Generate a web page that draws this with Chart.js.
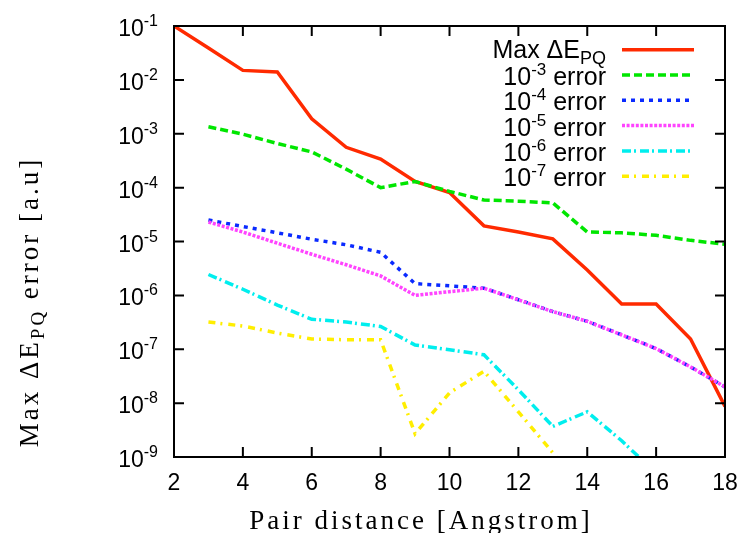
<!DOCTYPE html>
<html>
<head>
<meta charset="utf-8">
<script src="https://cdn.jsdelivr.net/npm/chart.js@4.4.1/dist/chart.umd.min.js"></script>
<style>
  html, body { margin: 0; padding: 0; background: #fff; }
  #wrap { width: 743px; height: 533px; }
</style>
</head>
<body>
<div id="wrap"><canvas id="chart"></canvas></div>
<script>
// pair distance in Angstrom
const distances = [2, 3, 4, 5, 6, 7, 8, 9, 10, 11, 12, 13, 14, 15, 16, 17, 18];

// max energy error for each run (a.u.), null = not plotted
const maxDeltaE = [1e-1, 3.9e-2, 1.5e-2, 1.4e-2, 1.9e-3, 5.6e-4, 3.4e-4, 1.3e-4, 8.1e-5, 1.95e-5, 1.5e-5, 1.12e-5, 2.95e-6, 6.9e-7, 6.9e-7, 1.55e-7, 8.7e-9];
const err3 = [null, 1.35e-3, 9.8e-4, 6.6e-4, 4.6e-4, 2.2e-4, 1.0e-4, 1.3e-4, 8.5e-5, 5.9e-5, 5.6e-5, 5.2e-5, 1.5e-5, 1.45e-5, 1.3e-5, 1.05e-5, 8.9e-6];
const err4 = [null, 2.5e-5, 1.9e-5, 1.45e-5, 1.1e-5, 8.7e-6, 6.3e-6, 1.65e-6, 1.5e-6, 1.36e-6, 8.3e-7, 5.0e-7, 3.3e-7, 1.85e-7, 1.03e-7, 4.7e-8, 2.0e-8];
const err5 = [null, 2.3e-5, 1.5e-5, 9.3e-6, 5.8e-6, 3.7e-6, 2.3e-6, 1.0e-6, 1.17e-6, 1.36e-6, 8.3e-7, 5.0e-7, 3.3e-7, 1.85e-7, 1.03e-7, 4.7e-8, 2.0e-8];
const err6 = [null, 2.44e-6, 1.3e-6, 6.6e-7, 3.6e-7, 3.2e-7, 2.65e-7, 1.2e-7, 9.8e-8, 7.9e-8, 1.77e-8, 3.7e-9, 6.9e-9, 2.0e-9, 5.0e-10, null, null];
const err7 = [null, 3.2e-7, 2.7e-7, 2.0e-7, 1.55e-7, 1.5e-7, 1.5e-7, 2.7e-9, 1.55e-8, 3.9e-8, 6.9e-9, 1.2e-9, 2.0e-10, null, null, null, null];

const xTicks = [2, 4, 6, 8, 10, 12, 14, 16, 18];
const yExponents = [-1, -2, -3, -4, -5, -6, -7, -8, -9];

const legendRows = [
  { main: "Max \u0394E", sub: "PQ" },
  { main: "10", sup: "-3", rest: " error" },
  { main: "10", sup: "-4", rest: " error" },
  { main: "10", sup: "-5", rest: " error" },
  { main: "10", sup: "-6", rest: " error" },
  { main: "10", sup: "-7", rest: " error" },
];

const series = [maxDeltaE, err3, err4, err5, err6, err7];
const colors = ["#ff2a00", "#00e600", "#0a2aff", "#ff44ff", "#00eeee", "#ffee00"];
const dashes = [[], [8, 4], [4, 5], [3, 1.6], [9, 3, 2, 4], [7, 5, 2, 6]];

const SANS = "'Liberation Sans', Arial, sans-serif";
const SERIF = "'Liberation Serif', 'Times New Roman', serif";

function toPoints(values) {
  return distances.map((d, i) => ({ x: d, y: values[i] }));
}

// draw "base" + superscript / subscript pieces, returns the total width
function richText(ctx, x, y, parts, measureOnly) {
  let cx = x;
  parts.forEach((p) => {
    ctx.font = p.font;
    const w = ctx.measureText(p.text).width;
    if (!measureOnly) ctx.fillText(p.text, cx, y + (p.dy || 0));
    cx += w;
  });
  return cx - x;
}

const gnuplotFrame = {
  id: "gnuplotFrame",
  afterDraw(chart) {
    const { ctx, chartArea: a, scales } = chart;
    const xs = scales.x, ys = scales.y;
    ctx.save();
    ctx.strokeStyle = "#000";
    ctx.fillStyle = "#000";
    ctx.lineWidth = 2;
    ctx.strokeRect(a.left, a.top, a.right - a.left, a.bottom - a.top);

    // inward ticks on all four sides
    ctx.beginPath();
    xTicks.forEach((t) => {
      const px = xs.getPixelForValue(t);
      ctx.moveTo(px, a.bottom); ctx.lineTo(px, a.bottom - 10);
      ctx.moveTo(px, a.top); ctx.lineTo(px, a.top + 10);
    });
    yExponents.forEach((e) => {
      const py = ys.getPixelForValue(Math.pow(10, e));
      ctx.moveTo(a.left, py); ctx.lineTo(a.left + 10, py);
      ctx.moveTo(a.right, py); ctx.lineTo(a.right - 10, py);
    });
    ctx.stroke();

    // x tick labels
    ctx.textAlign = "center";
    ctx.textBaseline = "alphabetic";
    ctx.font = "23px " + SANS;
    xTicks.forEach((t) => {
      ctx.fillText(String(t), xs.getPixelForValue(t), a.bottom + 33);
    });

    // y tick labels 10^n
    ctx.textAlign = "left";
    yExponents.forEach((e) => {
      const py = ys.getPixelForValue(Math.pow(10, e));
      const parts = [
        { text: "10", font: "23px " + SANS, dy: 10 },
        { text: String(e), font: "16px " + SANS, dy: 0 },
      ];
      const w = richText(ctx, 0, 0, parts, true);
      richText(ctx, a.left - 16 - w, py, parts);
    });

    // key
    const keyRight = 606, lineL = 622, lineR = 694;
    legendRows.forEach((row, i) => {
      const cy = 49.7 + i * 25.3;
      let parts;
      if (row.sub) {
        parts = [
          { text: row.main, font: "25px " + SANS, dy: 8 },
          { text: row.sub, font: "18px " + SANS, dy: 14 },
        ];
      } else {
        parts = [
          { text: row.main, font: "25px " + SANS, dy: 10 },
          { text: row.sup, font: "17px " + SANS, dy: 0 },
          { text: row.rest, font: "25px " + SANS, dy: 10 },
        ];
      }
      const w = richText(ctx, 0, 0, parts, true);
      richText(ctx, keyRight - w, cy, parts);
      ctx.save();
      ctx.strokeStyle = colors[i];
      ctx.lineWidth = 3.5;
      ctx.setLineDash(dashes[i]);
      ctx.beginPath();
      ctx.moveTo(lineL, cy); ctx.lineTo(lineR, cy);
      ctx.stroke();
      ctx.restore();
    });

    // axis titles
    ctx.letterSpacing = "3px";
    ctx.textAlign = "left";
    ctx.font = "27px " + SERIF;
    const xt = "Pair distance [Angstrom]";
    const xw = ctx.measureText(xt).width;
    ctx.fillText(xt, 421 - xw / 2, 529);

    ctx.translate(38, 302);
    ctx.rotate(-Math.PI / 2);
    const yParts = [
      { text: "Max \u0394E", font: "27px " + SERIF, dy: 0 },
      { text: "PQ", font: "19px " + SERIF, dy: 6 },
      { text: " error [a.u]", font: "27px " + SERIF, dy: 0 },
    ];
    const yw = richText(ctx, 0, 0, yParts, true);
    richText(ctx, -yw / 2, 0, yParts);
    ctx.restore();
  },
};

const ctx = document.getElementById("chart").getContext("2d");
new Chart(ctx, {
  type: "line",
  data: {
    datasets: series.map((vals, i) => ({
      label: legendRows[i].main,
      data: toPoints(vals),
      borderColor: colors[i],
      borderWidth: 3.5,
      borderDash: dashes[i],
      pointRadius: 0,
      tension: 0,
      fill: false,
      order: series.length - i, // later series painted on top, like gnuplot
    })),
  },
  options: {
    responsive: true,
    maintainAspectRatio: false,
    animation: false,
    devicePixelRatio: 1,
    layout: { padding: { left: 174, top: 26, right: 18, bottom: 76 } },
    plugins: { legend: { display: false }, tooltip: { enabled: false } },
    scales: {
      x: { type: "linear", min: 2, max: 18, display: false },
      y: { type: "logarithmic", min: 1e-9, max: 1e-1, display: false },
    },
  },
  plugins: [gnuplotFrame],
});
</script>
</body>
</html>
